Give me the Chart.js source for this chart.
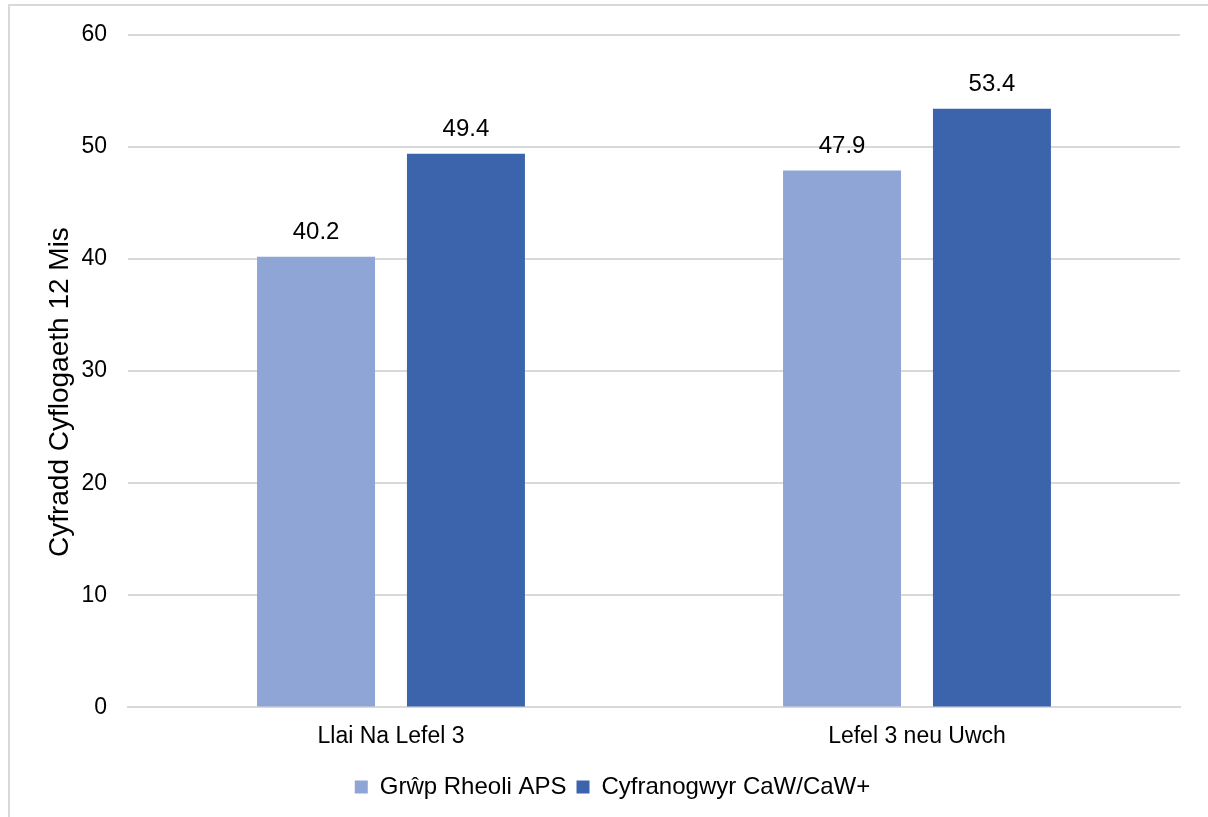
<!DOCTYPE html>
<html>
<head>
<meta charset="utf-8">
<script src="https://cdn.jsdelivr.net/npm/chart.js@4"></script>
<style>
  html, body { margin: 0; padding: 0; background: #fff; }
  body { width: 1208px; height: 817px; position: relative; overflow: hidden; }
  #frame { position: absolute; left: 8px; top: 4px; width: 1220px; height: 840px; border: 2px solid #D9D9D9; box-sizing: border-box; }
  #wrap { position: absolute; left: 0; top: 0; width: 1208px; height: 817px; }
</style>
</head>
<body>
<div id="frame"></div>
<div id="wrap"><canvas id="chart"></canvas></div>
<script>
  const categories = ["Llai Na Lefel 3", "Lefel 3 neu Uwch"];
  const seriesNames = ["Grŵp Rheoli APS", "Cyfranogwyr CaW/CaW+"];
  const controlValues = [40.2, 47.9];
  const participantValues = [49.4, 53.4];
  const yTicks = [0, 10, 20, 30, 40, 50, 60];
  const yTitle = "Cyfradd Cyflogaeth 12 Mis";

  const fontFamily = "'Liberation Sans', Arial, sans-serif";

  // labels above each bar, placed from the bar elements
  const barLabels = {
    id: "barLabels",
    afterDatasetsDraw(chart) {
      const ctx = chart.ctx;
      ctx.save();
      ctx.font = "24px " + fontFamily;
      ctx.fillStyle = "#000";
      ctx.textAlign = "center";
      ctx.textBaseline = "bottom";
      chart.data.datasets.forEach((ds, i) => {
        chart.getDatasetMeta(i).data.forEach((bar, j) => {
          ctx.fillText(ds.data[j].toFixed(1), bar.x, bar.y - 12);
        });
      });
      ctx.restore();
    },
  };

  // y axis title, sits a little below the middle of the plot like the original
  const axisTitle = {
    id: "axisTitle",
    afterDraw(chart) {
      const ctx = chart.ctx;
      const area = chart.chartArea;
      ctx.save();
      ctx.translate(60, (area.top + area.bottom) / 2 + 21);
      ctx.rotate(-Math.PI / 2);
      ctx.font = "28px " + fontFamily;
      ctx.fillStyle = "#000";
      ctx.textAlign = "center";
      ctx.textBaseline = "middle";
      ctx.fillText(yTitle, 0, 0);
      ctx.restore();
    },
  };

  new Chart(document.getElementById("chart"), {
    type: "bar",
    data: {
      labels: categories,
      datasets: [
        { label: seriesNames[0], data: controlValues, backgroundColor: "#8FA5D5" },
        { label: seriesNames[1], data: participantValues, backgroundColor: "#3C64AC" },
      ],
    },
    options: {
      responsive: true,
      maintainAspectRatio: false,
      animation: false,
      layout: { padding: { left: 45, right: 28, top: 32, bottom: 8 } },
      datasets: { bar: { categoryPercentage: 0.57, barPercentage: 0.787 } },
      plugins: {
        tooltip: { enabled: false },
        legend: {
          position: "bottom",
          labels: {
            color: "#000",
            font: { family: fontFamily, size: 24 },
            boxWidth: 13,
            boxHeight: 13,
            padding: 10,
          },
        },
      },
      scales: {
        x: {
          grid: { display: false, drawTicks: false },
          border: { display: true, color: "#D9D9D9", width: 2 },
          ticks: { color: "#000", font: { family: fontFamily, size: 23 }, padding: 15 },
        },
        y: {
          min: 0,
          max: 60,
          afterBuildTicks(scale) {
            scale.ticks = yTicks.map((v) => ({ value: v }));
          },
          afterFit(scale) {
            scale.width = 83;
          },
          border: { display: false },
          grid: { color: "#D9D9D9", lineWidth: 2, drawTicks: false },
          ticks: { color: "#000", font: { family: fontFamily, size: 23 }, padding: 21 },
        },
      },
    },
    plugins: [barLabels, axisTitle],
  });
</script>
</body>
</html>
